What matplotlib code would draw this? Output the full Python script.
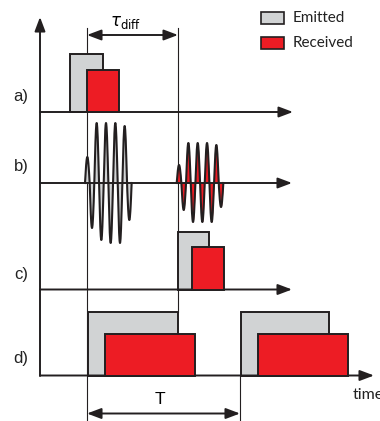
import numpy as np
import matplotlib
matplotlib.use('Agg')
import matplotlib.pyplot as plt
from matplotlib.patches import Rectangle

plt.rcParams['mathtext.fontset'] = 'dejavusans'

# 数据 (像素坐标, y 向下)
row_labels = ['a)', 'b)', 'c)', 'd)']
row_label_y = [97, 167, 275, 358]
baseline_y = [112, 183, 289.5, 375.5]
axis_end_x = [293, 292, 292, 374]

# 矩形脉冲: (行, 起点, 终点, 顶部)
emitted_rows = [0, 2, 3, 3]
emitted_start = [70, 177.7, 87.7, 240.7]
emitted_end = [103, 209.3, 177.7, 329.3]
emitted_top = [54, 231.7, 311.7, 311.7]

received_rows = [0, 2, 3, 3]
received_start = [87, 191.7, 105, 258.3]
received_end = [119, 223.7, 195, 348.3]
received_top = [70, 247.3, 334, 334]

# b) 振荡波形: 每个半周期的幅度
wave_period = 9.33
emitted_wave_start = 85
emitted_half_amps = [26, 45, 60, 57, 60, 60, 60, 60, 57, 37]
received_wave_start = 176.7
received_half_amps = [18, 27, 40, 39, 40, 39, 40, 39, 38, 24]

guide_x = [87, 178, 240]
guide_top = [28, 28, 375.5]
guide_bottom = [421, 311.7, 421]

GRAY = '#d1d3d4'
RED = '#ed1c24'
DARK = '#231f20'

fig = plt.figure(figsize=(3.8, 4.21), dpi=100)
ax = fig.add_axes([0, 0, 1, 1])
ax.set_xlim(0, 380)
ax.set_ylim(421, 0)
ax.axis('off')


def arrow(x0, y0, x1, y1, both=False, lw=1.4):
    style = '<|-|>' if both else '-|>'
    ax.annotate('', xy=(x1, y1), xytext=(x0, y0),
                arrowprops=dict(arrowstyle=style + ',head_length=0.85,head_width=0.32',
                                color=DARK, lw=lw, shrinkA=0, shrinkB=0))


def wave(x_start, half_amps, base, color):
    xs, ys = [], []
    half = wave_period / 2
    for i, amp in enumerate(half_amps):
        t = np.linspace(0, half, 30)
        sign = 1 if i % 2 == 0 else -1
        xs.extend(x_start + i * half + t)
        ys.extend(base - sign * amp * np.sin(np.pi * t / half))
    xs, ys = np.array(xs), np.array(ys)
    ax.fill_between(xs, base, ys, color=color, lw=0, zorder=2)
    ax.plot(xs, ys, color=DARK, lw=1.5, zorder=3)


# 辅助竖线
for gx, gt, gb in zip(guide_x, guide_top, guide_bottom):
    ax.plot([gx, gx], [gt, gb], color=DARK, lw=0.8, zorder=1)

# 纵轴
arrow(40, 376, 40, 17)

# 横轴
for by, ex in zip(baseline_y, axis_end_x):
    arrow(40, by, ex, by)

# 行标签
for lab, ly in zip(row_labels, row_label_y):
    ax.text(21, ly, lab, fontsize=12, family='Liberation Sans',
            ha='center', va='center', color='#222222')

# 脉冲
for r, s, e, t in zip(emitted_rows, emitted_start, emitted_end, emitted_top):
    ax.add_patch(Rectangle((s, t), e - s, baseline_y[r] - t, facecolor=GRAY,
                           edgecolor=DARK, lw=1.4, zorder=2))
for r, s, e, t in zip(received_rows, received_start, received_end, received_top):
    ax.add_patch(Rectangle((s, t), e - s, baseline_y[r] - t, facecolor=RED,
                           edgecolor=DARK, lw=1.4, zorder=3))

wave(emitted_wave_start, emitted_half_amps, baseline_y[1], GRAY)
wave(received_wave_start, received_half_amps, baseline_y[1], RED)

# tau_diff 和 T
arrow(87, 35, 178, 35, both=True)
ax.text(126, 22, r'$\tau_{\mathrm{diff}}$', fontsize=12, ha='center', va='center')
arrow(87, 413.5, 240, 413.5, both=True)
ax.text(160, 400, 'T', fontsize=12.5, family='Liberation Sans', ha='center', va='center')
ax.text(353, 395, 'time', fontsize=11.5, family='Lato', ha='left', va='center', color='#222222')

# 图例
ax.add_patch(Rectangle((261, 12), 23, 12, facecolor=GRAY, edgecolor=DARK, lw=1.2))
ax.add_patch(Rectangle((261, 36.5), 23, 12.5, facecolor=RED, edgecolor=DARK, lw=1.2))
ax.text(292.5, 18, 'Emitted', fontsize=11, family='Lato', va='center', color='#222222')
ax.text(292.5, 43, 'Received', fontsize=11, family='Lato', va='center', color='#222222')

fig.savefig('out.png', dpi=100)
plt.close(fig)
